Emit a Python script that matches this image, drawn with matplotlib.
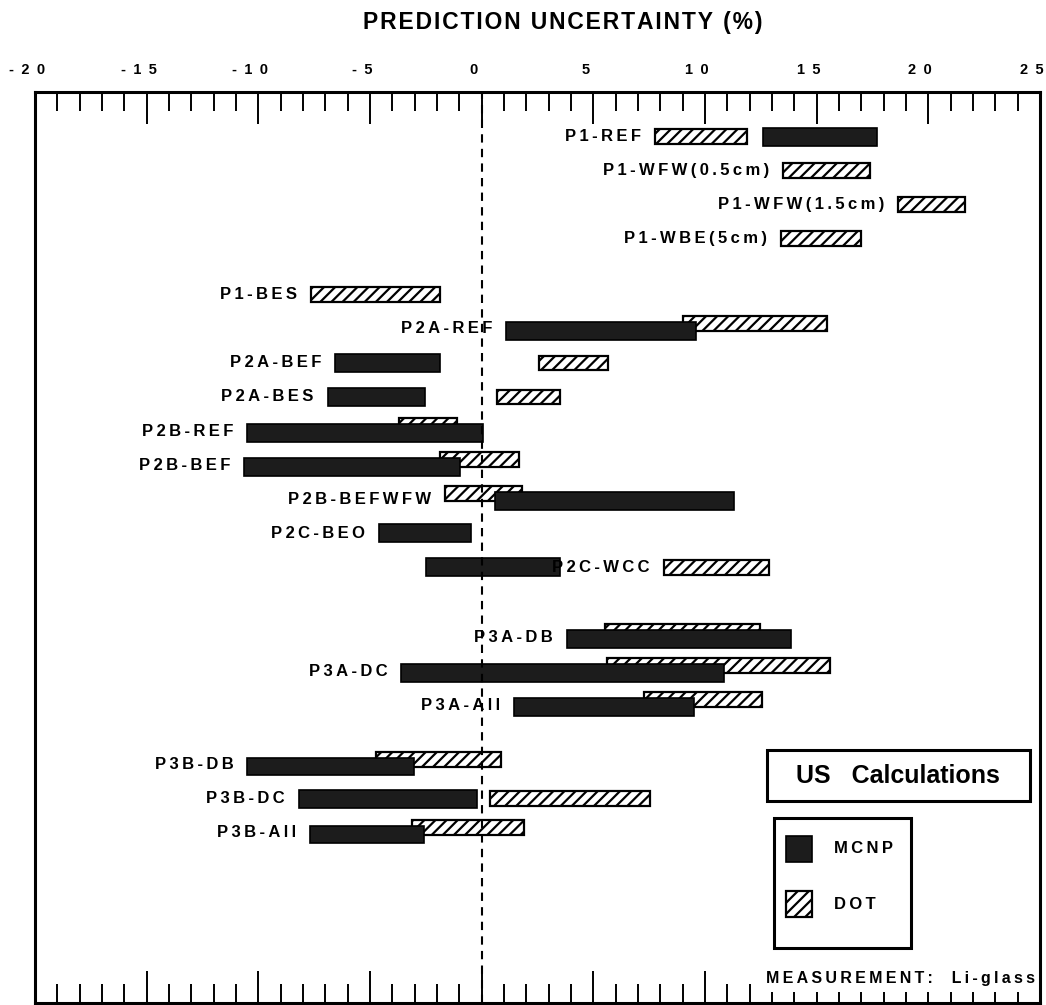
import numpy as np
import matplotlib.pyplot as plt
from matplotlib.patches import Rectangle
from matplotlib.transforms import ScaledTranslation

plt.rcParams['font.family'] = ['Liberation Sans', 'DejaVu Sans']

# Cases, top to bottom
cases = ["P1-REF", "P1-WFW(0.5cm)", "P1-WFW(1.5cm)", "P1-WBE(5cm)",
         "P1-BES", "P2A-REF", "P2A-BEF", "P2A-BES", "P2B-REF", "P2B-BEF",
         "P2B-BEFWFW", "P2C-BEO", "P2C-WCC",
         "P3A-DB", "P3A-DC", "P3A-All",
         "P3B-DB", "P3B-DC", "P3B-All"]
group_sizes = [4, 9, 3, 3]

# Prediction uncertainty ranges (%), nan = no bar
nan = np.nan
mcnp_lo = [12.6, nan, nan, nan, nan, 1.1, -6.55, -6.9, -10.5, -10.65,
           0.6, -4.6, -2.5, 3.8, -3.6, 1.45, -10.5, -8.2, -7.7]
mcnp_hi = [17.7, nan, nan, nan, nan, 9.6, -1.86, -2.55, 0.05, -0.95,
           11.3, -0.5, 3.5, 13.85, 10.85, 9.5, -3.05, -0.2, -2.6]
dot_lo = [7.75, 13.5, 18.65, 13.4, -7.65, 9.0, 2.55, 0.7, -3.7, -1.85,
          -1.65, nan, 8.15, 5.5, 5.6, 7.25, -4.75, 0.35, -3.1]
dot_hi = [11.9, 17.4, 21.65, 17.0, -1.85, 15.45, 5.65, 3.5, -1.1, 1.65,
          1.8, nan, 12.85, 12.45, 15.6, 12.55, 0.85, 7.55, 1.9]

# label sits in front of the DOT bar instead of the leftmost bar
label_before_dot = ["P2C-WCC"]

MCNP_COLOR = "#1c1c1c"


def spaced(s, sep="\u2009"):
    return sep.join(s)


# row positions (row units, groups separated by a gap)
gaps = [0, 1.65, 2.06, 1.76]
ypos = []
y = 0.0
for g, n in enumerate(group_sizes):
    if g > 0:
        y += gaps[g] - 1
    for i in range(n):
        ypos.append(y)
        y += 1
ypos = np.array(ypos)

mcnp_lo = np.array(mcnp_lo)
mcnp_hi = np.array(mcnp_hi)
dot_lo = np.array(dot_lo)
dot_hi = np.array(dot_hi)

# shift the two bars apart vertically where they overlap
overlap = (mcnp_lo < dot_hi) & (dot_lo < mcnp_hi)
y_dot = np.where(overlap, ypos - 0.16, ypos)
y_mcnp = np.where(overlap, ypos + 0.05, ypos)

plt.rcParams['hatch.linewidth'] = 1.6

fig = plt.figure(figsize=(10.46, 10.05), dpi=100)
ax = fig.add_axes([0.0335, 0.002, 0.9608, 0.9065])

ax.barh(y_dot, dot_hi - dot_lo, left=dot_lo, height=0.44,
        color="white", edgecolor="black", linewidth=1.6, hatch="///",
        zorder=2)
ax.barh(y_mcnp, mcnp_hi - mcnp_lo, left=mcnp_lo, height=0.52,
        color=MCNP_COLOR, edgecolor="black", linewidth=1.2, zorder=3)

# case labels
for i, name in enumerate(cases):
    if name in label_before_dot:
        x0 = dot_lo[i]
    else:
        x0 = np.nanmin([mcnp_lo[i], dot_lo[i]])
    ax.text(x0 - 0.62, ypos[i], spaced(name), ha="right", va="center",
            fontsize=12, fontweight="bold", zorder=5)

ax.axvline(0, color="black", lw=1.5, linestyle=(0, (4, 3)), zorder=4)

ax.set_xlim(-19.72, 25.0)
ax.set_ylim(25.47, -1.32)
ax.set_yticks([])

major = np.arange(-20, 26, 5)
ax.set_xticks(major)
ax.set_xticks(np.arange(-19, 26, 1), minor=True)
ax.set_xticklabels(["\u2002".join(str(v)) for v in major],
                   fontsize=10.5, fontweight="bold")
ax.tick_params(axis="x", which="both", direction="in", top=True,
               bottom=True, labeltop=True, labelbottom=False, width=1.4,
               pad=11)
ax.tick_params(axis="x", which="major", length=23)
ax.tick_params(axis="x", which="minor", length=14)
shift = ScaledTranslation(-0.08, 0, fig.dpi_scale_trans)
for lab in ax.get_xticklabels():
    lab.set_transform(lab.get_transform() + shift)
for sp in ax.spines.values():
    sp.set_linewidth(2.2)
    sp.set_zorder(8)

fig.text(0.538, 0.978, spaced("PREDICTION UNCERTAINTY (%)", "\u200a"),
         ha="center", va="center", fontsize=16.5, fontweight="bold")


# legend boxes, placed in pixel terms of the reference
def px(x, y):
    return ((x - 35) / 1005, (1003 - y) / 911)


def box(x0, y0, x1, y1, **kw):
    ax.add_patch(Rectangle(px(x0, y1), (x1 - x0) / 1005, (y1 - y0) / 911,
                           transform=ax.transAxes, clip_on=False, **kw))


box(767, 750, 1030, 801, facecolor="white", edgecolor="black",
    linewidth=2.2, zorder=6)
ax.text(*px(898, 776), "US   Calculations", transform=ax.transAxes,
        ha="center", va="center", fontsize=18, fontweight="bold", zorder=7)

box(774, 818, 911, 948, facecolor="white", edgecolor="black",
    linewidth=2.2, zorder=6)
box(786, 836, 812, 862, facecolor=MCNP_COLOR, edgecolor="black",
    linewidth=1.2, zorder=7)
box(786, 891, 812, 917, facecolor="white", edgecolor="black",
    linewidth=1.6, hatch="///", zorder=7)
ax.text(*px(834, 849), spaced("MCNP"), transform=ax.transAxes,
        ha="left", va="center", fontsize=12, fontweight="bold", zorder=7)
ax.text(*px(834, 905), spaced("DOT"), transform=ax.transAxes,
        ha="left", va="center", fontsize=12, fontweight="bold", zorder=7)

ax.text(*px(1035, 979), spaced("MEASUREMENT:  Li-glass"),
        transform=ax.transAxes, ha="right", va="center", fontsize=11.5,
        fontweight="bold", zorder=7,
        bbox=dict(boxstyle="square,pad=0.35", facecolor="white",
                  edgecolor="none"))

fig.savefig("out.png", dpi=100)
